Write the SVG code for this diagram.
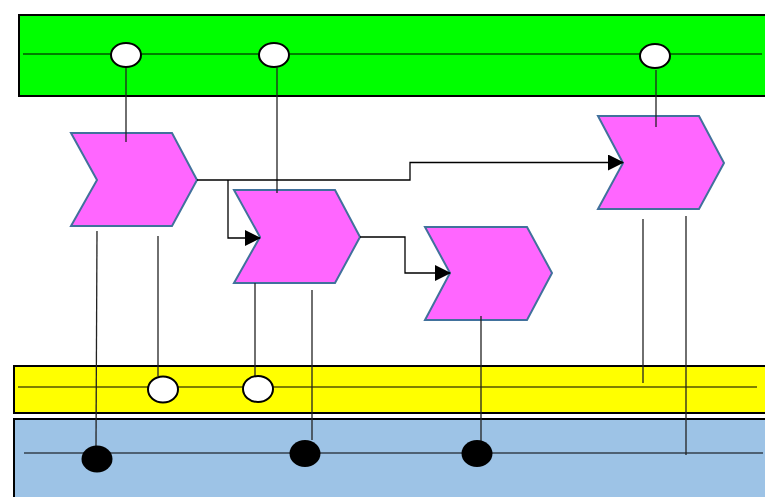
<svg xmlns="http://www.w3.org/2000/svg" width="765" height="497" viewBox="0 0 765 497">
  <style>
    .band { stroke: #000; stroke-width: 2; }
    .lane { stroke: #000; stroke-width: 1.2; fill: none; }
    .step { fill: #FF66FF; stroke: #41719C; stroke-width: 2; stroke-linejoin: miter; }
    .open { fill: #fff; stroke: #000; stroke-width: 2; }
    .solid { fill: #000; stroke: none; }
    .link { stroke: #222; stroke-width: 1.3; fill: none; }
    .flow { stroke: #000; stroke-width: 1.3; fill: none; }
  </style>
  <defs>
    <marker id="arrow" markerWidth="16" markerHeight="16" refX="15" refY="8" orient="auto" markerUnits="userSpaceOnUse">
      <path d="M0,0 L16,8 L0,16 Z" fill="#000"/>
    </marker>
  </defs>

  <!-- swim bands -->
  <g id="band-top">
    <rect class="band" x="19" y="15" width="760" height="81" fill="#00FF00"/>
    <line class="lane" x1="23" y1="54" x2="762" y2="54"/>
  </g>
  <g id="band-middle">
    <rect class="band" x="14" y="366" width="765" height="47" fill="#FFFF00"/>
    <line class="lane" x1="18" y1="387" x2="757" y2="387"/>
  </g>
  <g id="band-bottom">
    <rect class="band" x="14" y="419" width="765" height="90" fill="#9DC3E6"/>
    <line class="lane" x1="24" y1="453" x2="763" y2="453"/>
  </g>

  <!-- process steps -->
  <g id="step-1"><polygon class="step" points="71,133 172,133 197,180 172,226 71,226 97,180"/></g>
  <g id="step-2"><polygon class="step" points="234,190 335,190 360,237 335,283 234,283 260,237"/></g>
  <g id="step-3"><polygon class="step" points="425,227 527,227 552,273 527,320 425,320 450,273"/></g>
  <g id="step-4"><polygon class="step" points="598,116 699,116 724,163 699,209 598,209 623,163"/></g>

  <!-- connectors -->
  <g id="connectors">
    <line class="link" x1="126" y1="68" x2="126" y2="142"/>
    <line class="link" x1="277" y1="68" x2="277" y2="193"/>
    <line class="link" x1="656" y1="70" x2="656" y2="127"/>

    <line class="link" x1="97" y1="231" x2="96" y2="446"/>
    <line class="link" x1="158" y1="236" x2="158" y2="376"/>
    <line class="link" x1="255" y1="283" x2="255" y2="376"/>
    <line class="link" x1="312" y1="290" x2="312" y2="440"/>
    <line class="link" x1="481" y1="316" x2="481" y2="441"/>
    <line class="link" x1="643" y1="219" x2="643" y2="383"/>
    <line class="link" x1="686" y1="216" x2="686" y2="455"/>

    <polyline class="flow" points="197,180 410,180 410,162.5 623,162.5" marker-end="url(#arrow)"/>
    <polyline class="flow" points="228,180 228,238 260,238" marker-end="url(#arrow)"/>
    <polyline class="flow" points="360,237 405,237 405,273 450,273" marker-end="url(#arrow)"/>
  </g>

  <!-- events on the top band -->
  <g id="event-1"><ellipse class="open" cx="126" cy="55" rx="15" ry="12"/></g>
  <g id="event-2"><ellipse class="open" cx="274" cy="55" rx="15" ry="12"/></g>
  <g id="event-3"><ellipse class="open" cx="655" cy="56" rx="15" ry="12"/></g>

  <!-- events on the middle band -->
  <g id="event-4"><ellipse class="open" cx="163" cy="389.5" rx="15" ry="13"/></g>
  <g id="event-5"><ellipse class="open" cx="258" cy="389" rx="15" ry="13"/></g>

  <!-- markers on the bottom band -->
  <g id="point-1"><ellipse class="solid" cx="97" cy="459" rx="15.5" ry="13.5"/></g>
  <g id="point-2"><ellipse class="solid" cx="305" cy="453.5" rx="15.5" ry="13.5"/></g>
  <g id="point-3"><ellipse class="solid" cx="477" cy="453.5" rx="15.5" ry="13.5"/></g>
</svg>
